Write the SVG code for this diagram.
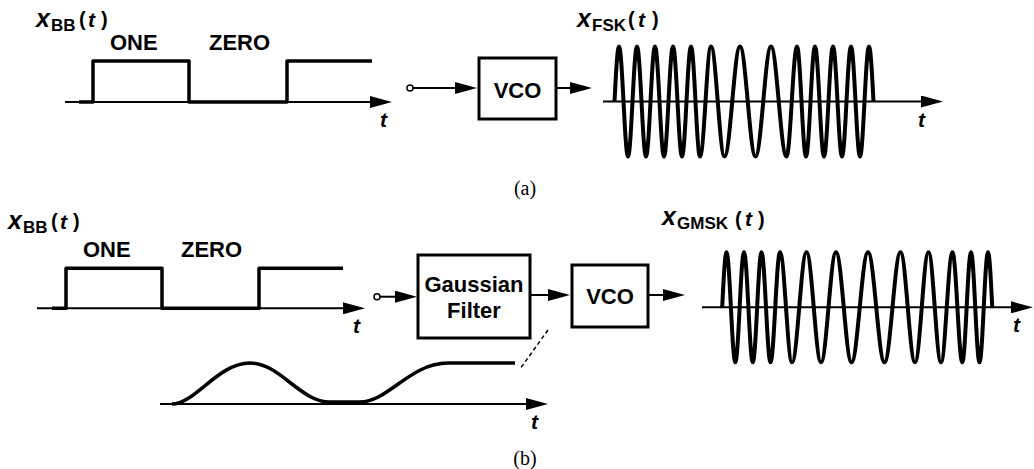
<svg xmlns="http://www.w3.org/2000/svg" width="1034" height="469" viewBox="0 0 1034 469">
<style>
.t{font-family:"Liberation Sans",Arial,sans-serif;font-weight:bold;fill:#000}
.it{font-style:italic}
.cap{font-family:"Liberation Serif","Times New Roman",serif;font-size:20px;fill:#000}
.ax{stroke:#000;stroke-width:2;fill:none}
.conn{stroke:#000;stroke-width:2;fill:none}
.sig{stroke:#000;stroke-width:3.5;fill:none;stroke-linejoin:round}
.wave{stroke:#000;stroke-width:4;fill:none;stroke-linejoin:round;stroke-linecap:butt}
.box{stroke:#000;stroke-width:3;fill:#fff}
.pin{stroke:#000;stroke-width:1.5;fill:#fff}
</style>
<defs>
<marker id="ah" markerUnits="userSpaceOnUse" viewBox="0 0 22 12" markerWidth="22" markerHeight="12" refX="14" refY="6" orient="auto">
<path d="M0,0 L22,6 L0,12 z" fill="#000"/>
</marker>
</defs>

<!-- (a) baseband -->
<g id="bb-a">
<text class="t it" x="36" y="27" font-size="25">x</text>
<text class="t" x="51" y="31" font-size="17">BB</text>
<text class="t" x="79" y="26" font-size="20">(</text>
<text class="t it" x="88" y="27" font-size="21">t</text>
<text class="t" x="101" y="26" font-size="20">)</text>
<text class="t" x="110" y="50" font-size="22">ONE</text>
<text class="t" x="209" y="50" font-size="22">ZERO</text>
<path class="ax" d="M65,102 L384,102" marker-end="url(#ah)"/>
<path class="sig" d="M79,102 L93,102 L93,61 L189,61 L189,102 L287,102 L287,61 L372,61"/>
<text class="t it" x="380" y="127" font-size="21">t</text>
</g>

<g id="vco-a">
<rect class="box" x="479" y="58" width="77" height="61"/>
<text class="t" x="517.5" y="98" font-size="22" text-anchor="middle">VCO</text>
</g>

<g id="fsk">
<text class="t it" x="577" y="27" font-size="25">x</text>
<text class="t" x="592" y="31" font-size="17">FSK</text>
<text class="t" x="628" y="26" font-size="20">(</text>
<text class="t it" x="638" y="27" font-size="21">t</text>
<text class="t" x="652" y="26" font-size="20">)</text>
<path class="ax" d="M603,101.5 L935,101.5" marker-end="url(#ah)"/>
<path class="wave" d="M614.5,101.5
c 1.469,-28.2 2.871,-55 4.5,-55 c 1.629,0 3.031,26.8 4.5,55
c 1.469,28.2 2.871,55 4.5,55 c 1.629,0 3.031,-26.8 4.5,-55
c 1.469,-28.2 2.871,-55 4.5,-55 c 1.629,0 3.031,26.8 4.5,55
c 1.469,28.2 2.871,55 4.5,55 c 1.629,0 3.031,-26.8 4.5,-55
c 1.469,-28.2 2.871,-55 4.5,-55 c 1.629,0 3.031,26.8 4.5,55
c 1.469,28.2 2.871,55 4.5,55 c 1.629,0 3.031,-26.8 4.5,-55
c 1.469,-28.2 2.871,-55 4.5,-55 c 1.629,0 3.031,26.8 4.5,55
c 1.469,28.2 2.871,55 4.5,55 c 1.629,0 3.031,-26.8 4.5,-55
c 1.469,-28.2 2.871,-55 4.5,-55 c 1.629,0 3.031,26.8 4.5,55
c 1.469,28.2 2.871,55 4.5,55 c 1.991,0 3.704,-26.8 5.5,-55
c 1.796,-28.2 3.509,-55 5.5,-55 c 2.444,0 4.546,26.8 6.75,55
c 2.204,28.2 4.307,55 6.75,55 c 2.806,0 5.220,-26.8 7.75,-55
c 2.530,-28.2 4.945,-55 7.75,-55 c 2.806,0 5.220,26.8 7.75,55
c 2.530,28.2 4.945,55 7.75,55 c 2.806,0 5.220,-26.8 7.75,-55
c 2.530,-28.2 4.945,-55 7.75,-55 c 2.806,0 5.220,26.8 7.75,55
c 2.530,28.2 4.945,55 7.75,55 c 1.901,0 3.536,-26.8 5.25,-55
c 1.714,-28.2 3.350,-55 5.25,-55 c 1.629,0 3.031,26.8 4.5,55
c 1.469,28.2 2.871,55 4.5,55 c 1.629,0 3.031,-26.8 4.5,-55
c 1.469,-28.2 2.871,-55 4.5,-55 c 1.629,0 3.031,26.8 4.5,55
c 1.469,28.2 2.871,55 4.5,55 c 1.629,0 3.031,-26.8 4.5,-55
c 1.469,-28.2 2.871,-55 4.5,-55 c 1.629,0 3.031,26.8 4.5,55
c 1.469,28.2 2.871,55 4.5,55 c 1.629,0 3.031,-26.8 4.5,-55
c 1.469,-28.2 2.871,-55 4.5,-55 c 1.629,0 3.031,26.8 4.5,55
c 1.469,28.2 2.871,55 4.5,55 c 1.629,0 3.031,-26.8 4.5,-55
c 1.469,-28.2 2.871,-55 4.5,-55 c 1.629,0 3.031,26.8 4.5,55"/>
<text class="t it" x="918" y="127" font-size="21">t</text>
</g>

<text class="cap" x="525" y="195" text-anchor="middle">(a)</text>

<!-- (b) baseband -->
<g id="bb-b">
<text class="t it" x="8" y="229" font-size="25">x</text>
<text class="t" x="23" y="233" font-size="17">BB</text>
<text class="t" x="51" y="228" font-size="20">(</text>
<text class="t it" x="60" y="229" font-size="21">t</text>
<text class="t" x="73" y="228" font-size="20">)</text>
<text class="t" x="83" y="257" font-size="22">ONE</text>
<text class="t" x="181" y="257" font-size="22">ZERO</text>
<path class="ax" d="M37,308.3 L357,308.3" marker-end="url(#ah)"/>
<path class="sig" d="M52,308.3 L66,308.3 L66,268.3 L162,268.3 L162,308.3 L259,308.3 L259,268.3 L343,268.3"/>
<text class="t it" x="353" y="333" font-size="21">t</text>
</g>

<g id="gaussian-filter">
<rect class="box" x="418" y="255" width="112" height="83"/>
<text class="t" x="474" y="292" font-size="22" text-anchor="middle">Gaussian</text>
<text class="t" x="474" y="318" font-size="22" text-anchor="middle">Filter</text>
</g>

<g id="filtered">
<path class="ax" d="M160,404 L540,404" marker-end="url(#ah)"/>
<path class="sig" d="M172,404 C195,404 218,363 250,363 C280,363 300,402 330,402 L360,402 C388,402 410,363 448,363 L515,363"/>
<text class="t it" x="531" y="429" font-size="21">t</text>
<path d="M548,330 L520,369" stroke="#000" stroke-width="1.5" stroke-dasharray="4,3" fill="none"/>
</g>

<g id="vco-b">
<rect class="box" x="572" y="265" width="76" height="62"/>
<text class="t" x="610" y="304" font-size="22" text-anchor="middle">VCO</text>
</g>

<g id="gmsk">
<text class="t it" x="662" y="225" font-size="25">x</text>
<text class="t" x="677" y="229" font-size="17">GMSK</text>
<text class="t" x="735" y="226" font-size="20">(</text>
<text class="t it" x="745" y="226" font-size="21">t</text>
<text class="t" x="758" y="226" font-size="20">)</text>
<path class="ax" d="M702,307.3 L1025,307.3" marker-end="url(#ah)"/>
<path class="wave" d="M722.2,307.3
c 1.404,-28.2 2.743,-55 4.3,-55 c 1.593,0 2.963,26.8 4.4,55
c 1.437,28.2 2.807,55 4.4,55 c 1.575,0 2.930,-26.8 4.35,-55
c 1.420,-28.2 2.775,-55 4.35,-55 c 1.593,0 2.963,26.8 4.4,55
c 1.437,28.2 2.807,55 4.4,55 c 1.575,0 2.930,-26.8 4.35,-55
c 1.420,-28.2 2.775,-55 4.35,-55 c 1.629,0 3.031,26.8 4.5,55
c 1.469,28.2 2.871,55 4.5,55 c 1.720,0 3.199,-26.8 4.75,-55
c 1.551,-28.2 3.031,-55 4.75,-55 c 2.172,0 4.041,26.8 6,55
c 1.959,28.2 3.828,55 6,55 c 2.625,0 4.883,-26.8 7.25,-55
c 2.367,-28.2 4.626,-55 7.25,-55 c 2.625,0 4.883,26.8 7.25,55
c 2.367,28.2 4.626,55 7.25,55 c 2.715,0 5.051,-26.8 7.5,-55
c 2.449,-28.2 4.785,-55 7.5,-55 c 2.806,0 5.220,26.8 7.75,55
c 2.530,28.2 4.945,55 7.75,55 c 2.987,0 5.556,-26.8 8.25,-55
c 2.694,-28.2 5.264,-55 8.25,-55 c 2.987,0 5.556,26.8 8.25,55
c 2.694,28.2 5.264,55 8.25,55 c 2.896,0 5.388,-26.8 8,-55
c 2.612,-28.2 5.104,-55 8,-55 c 2.625,0 4.883,26.8 7.25,55
c 2.367,28.2 4.626,55 7.25,55 c 2.444,0 4.546,-26.8 6.75,-55
c 2.204,-28.2 4.307,-55 6.75,-55 c 2.263,0 4.209,26.8 6.25,55
c 2.041,28.2 3.988,55 6.25,55 c 2.082,0 3.873,-26.8 5.75,-55
c 1.877,-28.2 3.669,-55 5.75,-55 c 1.774,0 3.300,26.8 4.9,55
c 1.600,28.2 3.126,55 4.9,55 c 1.575,0 2.930,-26.8 4.35,-55
c 1.420,-28.2 2.775,-55 4.35,-55 c 1.539,0 2.862,26.8 4.25,55
c 1.388,28.2 2.712,55 4.25,55 c 1.539,0 2.862,-26.8 4.25,-55
c 1.388,-28.2 2.712,-55 4.25,-55 c 1.539,0 2.862,26.8 4.25,55"/>
<text class="t it" x="1013" y="332" font-size="21">t</text>
</g>

<text class="cap" x="525" y="465" text-anchor="middle">(b)</text>

<g id="connectors">
<circle class="pin" cx="410" cy="88" r="3"/>
<path class="conn" d="M413,88 L469,88" marker-end="url(#ah)"/>
<path class="conn" d="M556,88 L584,88" marker-end="url(#ah)"/>
<circle class="pin" cx="377" cy="296.7" r="3"/>
<path class="conn" d="M380,296.7 L409,296.7" marker-end="url(#ah)"/>
<path class="conn" d="M530,295 L562,295" marker-end="url(#ah)"/>
<path class="conn" d="M648,295 L677,295" marker-end="url(#ah)"/>
</g>
</svg>
